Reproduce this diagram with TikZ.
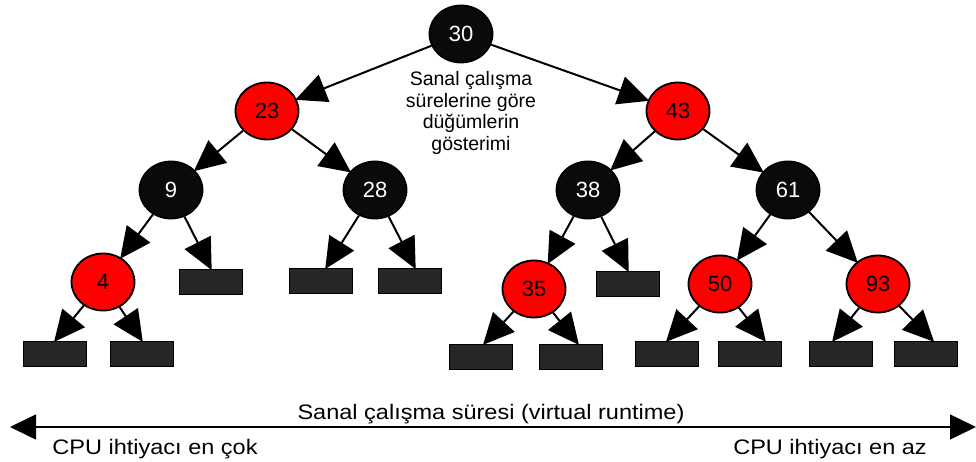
\documentclass[tikz,border=0pt]{standalone}
\usepackage{fontspec}
\setmainfont{Liberation Sans}
\newfontfamily\widefont{Liberation Sans}[FakeStretch=1.12]
\usetikzlibrary{shapes.geometric,arrows.meta}
\begin{document}
\begin{tikzpicture}[x=1pt,y=-1pt,
  rbnode/.style={ellipse,draw=black,line width=1.8pt,minimum width=63pt,minimum height=57pt,inner sep=0pt,font=\fontsize{22}{22}\selectfont},
  blk/.style={rbnode,fill=black!96,text=white},
  red/.style={rbnode,fill=red,text=black},
  leaf/.style={rectangle,draw=black,line width=1.5pt,fill=black!85,minimum width=63pt,minimum height=25pt,inner sep=0pt},
  edge/.style={line width=2pt,shorten >=-1.5pt,-{Triangle[length=31pt,width=29pt]}},
  lbl/.style={font=\widefont\fontsize{21}{21}\selectfont,anchor=base,inner sep=0pt}]
\useasboundingbox (0,0) rectangle (976,462);
% nodes
\node[blk] (n30) at (461,34) {30};
\node[red] (n23) at (267,111) {23};
\node[red] (n43) at (678,111) {43};
\node[blk] (n9) at (171,190) {9};
\node[blk] (n28) at (375,190) {28};
\node[blk] (n38) at (588,190) {38};
\node[blk] (n61) at (788,190) {61};
\node[red] (n4) at (103,282) {4};
\node[red] (n35) at (534,289) {35};
\node[red] (n50) at (720,284) {50};
\node[red] (n93) at (878,284) {93};
% leaves
\node[leaf] (r1) at (211,282) {};
\node[leaf] (r2) at (321,281) {};
\node[leaf] (r3) at (410,281) {};
\node[leaf] (r4) at (55,354) {};
\node[leaf] (r5) at (142,354) {};
\node[leaf] (r6) at (628,284) {};
\node[leaf] (r7) at (481,357) {};
\node[leaf] (r8) at (571,357) {};
\node[leaf] (r9) at (667,354) {};
\node[leaf] (r10) at (750,354) {};
\node[leaf] (r11) at (841,354) {};
\node[leaf] (r12) at (926,354) {};
% middle text
\node[align=center,font=\fontsize{19.5}{21.5}\selectfont,inner sep=0pt] (note) at (471,113) {Sanal çalışma\\sürelerine göre\\düğümlerin\\gösterimi};
% edges
\draw[edge] (n30) -- (n23);
\draw[edge] (n30) -- (n43);
\draw[edge] (n23) -- (n9);
\draw[edge] (n23) -- (n28);
\draw[edge] (n43) -- (n38);
\draw[edge] (n43) -- (n61);
\draw[edge] (n9) -- (n4);
\draw[edge] (n9) -- (r1.north);
\draw[edge] (n28) -- ([xshift=5pt]r2.north);
\draw[edge] (n28) -- ([xshift=5pt]r3.north);
\draw[edge] (n4) -- (r4.north);
\draw[edge] (n4) -- (r5.north);
\draw[edge] (n38) -- (n35);
\draw[edge] (n38) -- (r6.north);
\draw[edge] (n35) -- ([xshift=3pt]r7.north);
\draw[edge] (n35) -- ([xshift=7pt]r8.north);
\draw[edge] (n61) -- (n50);
\draw[edge] (n61) -- (n93);
\draw[edge] (n50) -- (r9.north);
\draw[edge] (n50) -- ([xshift=15pt]r10.north);
\draw[edge] (n93) -- ([xshift=-8pt]r11.north);
\draw[edge] (n93) -- ([xshift=7pt]r12.north);
% bottom axis
\coordinate (axL) at (10,427);
\coordinate (axR) at (976,427);
\draw[line width=1.5pt,{Triangle[length=26pt,width=25pt]}-{Triangle[length=26pt,width=25pt]}] (axL) -- (axR);
\node[lbl] (vr) at (491,419) {Sanal çalışma süresi (virtual runtime)};
\node[lbl] (most) at (155,454) {CPU ihtiyacı en çok};
\node[lbl] (least) at (830,454) {CPU ihtiyacı en az};
\end{tikzpicture}
\end{document}
